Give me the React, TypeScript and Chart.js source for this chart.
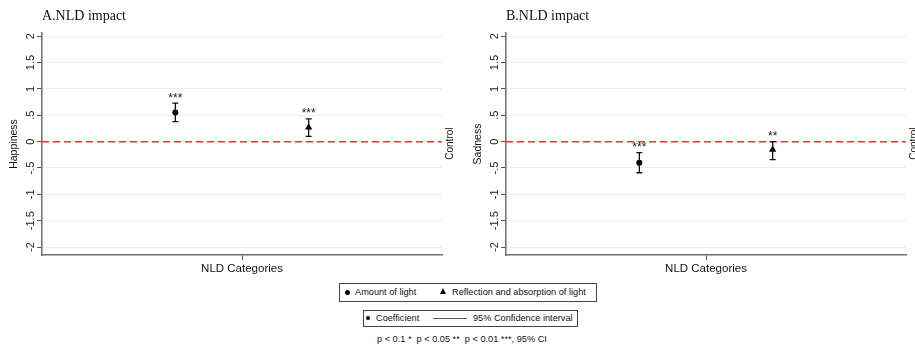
import React, { useEffect, useRef } from 'react';
import { Chart, registerables } from 'chart.js';

Chart.register(...registerables);

// ---- data ----
const categories = ['Amount of light', 'Reflection and absorption of light'];
const categoryX = [1, 2];
const pointStyles = ['circle', 'triangle'];

const happinessCoef = [0.55, 0.27];
const happinessLow = [0.38, 0.1];
const happinessHigh = [0.73, 0.43];
const happinessStars = ['***', '***'];

const sadnessCoef = [-0.4, -0.15];
const sadnessLow = [-0.59, -0.34];
const sadnessHigh = [-0.21, 0.0];
const sadnessStars = ['***', '**'];

const yTickValues = [-2, -1.5, -1, -0.5, 0, 0.5, 1, 1.5, 2];
const yTickLabels = ['-2', '-1.5', '-1', '-.5', '0', '.5', '1', '1.5', '2'];

const SANS = '"Liberation Sans", Arial, sans-serif';
const SERIF = '"Liberation Serif", "Times New Roman", serif';

type PanelProps = {
  title: string;
  yTitle: string;
  coef: number[];
  low: number[];
  high: number[];
  stars: string[];
  width: number;
  rightPad: number;
};

function Panel({ title, yTitle, coef, low, high, stars, width, rightPad }: PanelProps) {
  const ref = useRef<HTMLCanvasElement | null>(null);

  useEffect(() => {
    if (!ref.current) return;

    const decor = {
      id: 'decor',
      afterDatasetsDraw(chart: any) {
        const { ctx, chartArea, scales } = chart;
        const x = scales.x;
        const y = scales.y;
        ctx.save();
        // error bars
        ctx.strokeStyle = '#111';
        ctx.lineWidth = 1.3;
        categoryX.forEach((xv, i) => {
          const px = x.getPixelForValue(xv);
          const pl = y.getPixelForValue(low[i]);
          const ph = y.getPixelForValue(high[i]);
          ctx.beginPath();
          ctx.moveTo(px, pl);
          ctx.lineTo(px, ph);
          ctx.moveTo(px - 3, pl);
          ctx.lineTo(px + 3, pl);
          ctx.moveTo(px - 3, ph);
          ctx.lineTo(px + 3, ph);
          ctx.stroke();
          ctx.fillStyle = '#222';
          ctx.font = `12px ${SANS}`;
          ctx.textAlign = 'center';
          ctx.textBaseline = 'alphabetic';
          ctx.fillText(stars[i], px, ph - 1.5);
        });
        // title
        ctx.fillStyle = '#111';
        ctx.font = `14px ${SERIF}`;
        ctx.textAlign = 'left';
        ctx.textBaseline = 'alphabetic';
        ctx.fillText(title, chartArea.left, 20);
        // right side "Control"
        const y0 = y.getPixelForValue(0);
        ctx.translate(chartArea.right + 8, y0 + 2);
        ctx.rotate(-Math.PI / 2);
        ctx.font = `10px ${SANS}`;
        ctx.textAlign = 'center';
        ctx.textBaseline = 'middle';
        ctx.fillStyle = '#111';
        ctx.fillText('Control', 0, 0);
        ctx.restore();
      },
    };

    const chart = new Chart(ref.current, {
      type: 'scatter',
      data: {
        datasets: [
          {
            type: 'line',
            label: 'zero',
            data: [
              { x: 0, y: 0 },
              { x: 3, y: 0 },
            ],
            borderColor: '#ff2a2a',
            borderWidth: 1.5,
            borderDash: [7, 4],
            pointRadius: 0,
            fill: false,
          } as any,
          {
            label: 'Coefficient',
            data: categoryX.map((xv, i) => ({ x: xv, y: coef[i] })),
            pointStyle: pointStyles as any,
            pointRadius: [3, 4.2],
            backgroundColor: '#000',
            borderColor: '#000',
            borderWidth: 0,
          },
        ],
      },
      options: {
        responsive: false,
        animation: false,
        layout: { padding: { top: 33, right: rightPad, bottom: 0, left: 0 } },
        plugins: {
          legend: { display: false },
          tooltip: { enabled: false },
          title: { display: false },
        },
        scales: {
          x: {
            type: 'linear',
            min: 0,
            max: 3,
            afterBuildTicks: (s: any) => {
              s.ticks = [{ value: 1.5 }];
            },
            afterFit: (s: any) => {
              s.height = 25;
            },
            ticks: { display: false },
            grid: {
              drawOnChartArea: false,
              drawTicks: true,
              tickLength: 5,
              tickColor: '#555',
            },
            border: { display: true, color: '#6f6f6f', width: 1.5 },
            title: {
              display: true,
              text: 'NLD Categories',
              font: { family: SANS, size: 11.5 },
              color: '#111',
              padding: { top: 0, bottom: 4 },
            },
          },
          y: {
            type: 'linear',
            min: -2.15,
            max: 2.06,
            afterBuildTicks: (s: any) => {
              s.ticks = yTickValues.map((v) => ({ value: v }));
            },
            afterFit: (s: any) => {
              s.width = 42;
            },
            ticks: {
              minRotation: 90,
              maxRotation: 90,
              crossAlign: 'center',
              padding: -3,
              color: '#222',
              font: { family: SANS, size: 11 },
              callback: (_v: any, i: number) => yTickLabels[i],
            },
            grid: {
              color: '#e6eff2',
              lineWidth: 1,
              drawTicks: true,
              tickLength: 5,
              tickColor: '#555',
            },
            border: { display: true, color: '#6f6f6f', width: 1.5 },
            title: {
              display: true,
              text: yTitle,
              font: { family: SANS, size: 10.5 },
              color: '#111',
              padding: { top: 8, bottom: 0 },
            },
          },
        },
      },
      plugins: [decor],
    });

    return () => chart.destroy();
  }, [title, yTitle, coef, low, high, stars, width, rightPad]);

  return <canvas ref={ref} width={width} height={280} style={{ display: 'block' }} />;
}

const legendText: React.CSSProperties = {
  position: 'absolute',
  fontFamily: SANS,
  fontSize: 9.2,
  color: '#111',
  whiteSpace: 'pre',
  lineHeight: '10px',
};

export default function App() {
  return (
    <div
      style={{
        position: 'absolute',
        left: 0,
        top: 0,
        width: 915,
        height: 348,
        overflow: 'hidden',
        background: '#fff',
      }}
    >
      <div style={{ position: 'absolute', left: 0, top: 0 }}>
        <Panel
          title="A.NLD impact"
          yTitle="Happiness"
          coef={happinessCoef}
          low={happinessLow}
          high={happinessHigh}
          stars={happinessStars}
          width={457}
          rightPad={15}
        />
      </div>
      <div style={{ position: 'absolute', left: 464, top: 0 }}>
        <Panel
          title="B.NLD impact"
          yTitle="Sadness"
          coef={sadnessCoef}
          low={sadnessLow}
          high={sadnessHigh}
          stars={sadnessStars}
          width={451}
          rightPad={9}
        />
      </div>

      {/* legend 1 */}
      <div
        style={{
          position: 'absolute',
          left: 339,
          top: 283,
          width: 256,
          height: 17,
          border: '1px solid #444',
        }}
      />
      <div
        style={{
          position: 'absolute',
          left: 345,
          top: 289.5,
          width: 5,
          height: 5,
          borderRadius: '50%',
          background: '#000',
        }}
      />
      <div style={{ ...legendText, left: 355, top: 287 }}>{categories[0]}</div>
      <div
        style={{
          position: 'absolute',
          left: 440,
          top: 288,
          width: 0,
          height: 0,
          borderLeft: '3.5px solid transparent',
          borderRight: '3.5px solid transparent',
          borderBottom: '6px solid #000',
        }}
      />
      <div style={{ ...legendText, left: 452, top: 287 }}>{categories[1]}</div>

      {/* legend 2 */}
      <div
        style={{
          position: 'absolute',
          left: 363,
          top: 310,
          width: 213,
          height: 15,
          border: '1px solid #444',
        }}
      />
      <div
        style={{
          position: 'absolute',
          left: 366,
          top: 316,
          width: 4,
          height: 4,
          borderRadius: '50%',
          background: '#000',
        }}
      />
      <div style={{ ...legendText, left: 376, top: 313 }}>Coefficient</div>
      <div
        style={{
          position: 'absolute',
          left: 433,
          top: 318,
          width: 34,
          height: 1,
          background: '#555',
        }}
      />
      <div style={{ ...legendText, left: 473, top: 313 }}>95% Confidence interval</div>

      <div style={{ ...legendText, left: 377, top: 334 }}>
        {'p < 0.1 *  p < 0.05 **  p < 0.01 ***, 95% CI'}
      </div>
    </div>
  );
}
